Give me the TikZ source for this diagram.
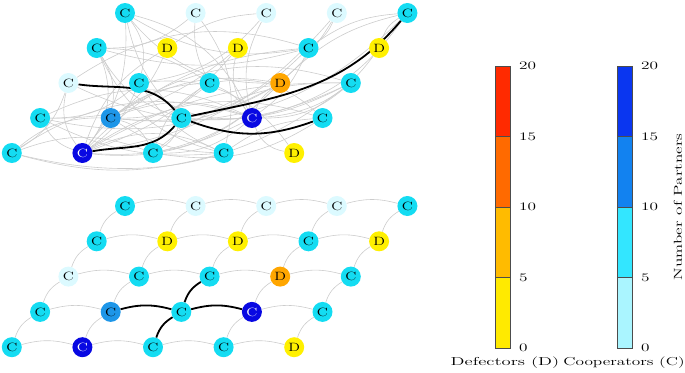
\documentclass[tikz,border=0pt]{standalone}
\usepackage{tikz}
\usepackage{xcolor}
\usetikzlibrary{calc}
\definecolor{CoopA}{HTML}{DCFAFF}
\definecolor{CoopB}{HTML}{14DCF2}
\definecolor{CoopC}{HTML}{1E96E8}
\definecolor{CoopD}{HTML}{0808E2}
\definecolor{DefA}{HTML}{FFF000}
\definecolor{DefB}{HTML}{FFA600}
\definecolor{BarCA}{HTML}{AAF5FF}
\definecolor{BarCB}{HTML}{33E6FF}
\definecolor{BarCC}{HTML}{1282F0}
\definecolor{BarCD}{HTML}{0A36F0}
\definecolor{BarDA}{HTML}{FFEA00}
\definecolor{BarDB}{HTML}{FFBB00}
\definecolor{BarDC}{HTML}{FF6A00}
\definecolor{BarDD}{HTML}{FF2A00}
\newcommand{\wtext}[1]{\scalebox{1.5}[1]{#1}}
\newcommand{\ltext}[1]{\scalebox{1.62}[1]{#1}}
\newcommand{\ntext}[1]{\scalebox{1.3}[1]{#1}}
\pgfdeclarelayer{background}
\pgfsetlayers{background,main}

\begin{document}
\begin{tikzpicture}[x=1pt, y=-1pt,
    agent/.style={circle, inner sep=0pt, minimum size=20pt, font=\fontsize{12}{14}\selectfont},
    netedge/.style={gray!40, line width=0.6pt},
    hubedge/.style={black, line width=1.8pt},
    barseg/.style={draw=black!70, line width=0.5pt},
    tick/.style={anchor=west, inner sep=0pt, font=\fontsize{11.5}{13}\selectfont},
    barlabel/.style={inner sep=0pt, font=\fontsize{11.5}{13}\selectfont}]
    \useasboundingbox (0,0) rectangle (685,372);

    % Agents: top = partner network, bottom = lattice
    \foreach \f/\l/\tc [count=\i from 0] in {
        CoopB/C/black, CoopA/C/black, CoopA/C/black, CoopA/C/black, CoopB/C/black,
        CoopB/C/black, DefA/D/black, DefA/D/black, CoopB/C/black, DefA/D/black,
        CoopA/C/black, CoopB/C/black, CoopB/C/black, DefB/D/black, CoopB/C/black,
        CoopB/C/black, CoopC/C/black, CoopB/C/black, CoopD/C/white, CoopB/C/black,
        CoopB/C/black, CoopD/C/white, CoopB/C/black, CoopB/C/black, DefA/D/black} {
        \pgfmathtruncatemacro\r{div(\i,5)+1}
        \pgfmathtruncatemacro\c{mod(\i,5)+1}
        \pgfmathsetmacro\xx{125-28.3*(\r-1)+70.6*(\c-1)}
        \pgfmathsetmacro\yt{13+35*(\r-1)}
        \pgfmathsetmacro\yb{206+35.3*(\r-1)}
        \node[agent, fill=\f, text=\tc] (t\r\c) at (\xx,\yt) {\ntext{\l}};
        \node[agent, fill=\f, text=\tc] (b\r\c) at (\xx,\yb) {\ntext{\l}};
    }

    \begin{pgfonlayer}{background}
    % Partner network
    \foreach \a/\b/\s in {11/32/25, 11/43/-15, 11/24/-20, 11/34/-25, 11/44/25, 11/52/20,
        12/33/-15, 12/21/20, 12/54/25, 13/32/20, 13/44/-20, 13/22/-15,
        14/24/15, 14/43/25, 14/52/20, 15/24/-15, 15/25/-20, 15/44/20, 15/42/25, 15/34/-15,
        21/24/-15, 21/42/20, 21/43/-20, 21/33/15, 21/52/30, 21/54/-25,
        22/42/15, 22/52/-20, 23/44/-25, 23/41/20, 23/52/15,
        24/42/25, 24/52/-20, 24/44/15, 24/31/-25, 25/44/25,
        31/52/-25, 31/51/20, 31/35/-25, 32/52/15, 32/44/-20, 32/41/20, 32/54/-15, 32/55/30,
        33/52/-25, 33/42/20, 33/44/15, 33/53/-20, 33/45/25,
        34/42/-20, 34/52/25, 34/53/15, 34/44/-15, 34/41/20,
        35/42/-25, 35/44/20, 35/52/-15, 35/51/25, 35/53/-20, 35/43/15,
        41/52/-20, 41/44/25, 41/54/-15, 42/44/20, 42/51/-20, 42/53/25, 42/54/-15,
        44/51/-25, 44/53/20, 44/55/-30, 44/52/15, 45/52/-25, 45/53/20, 45/54/-15,
        51/53/20, 51/54/-15, 52/54/25, 53/43/-20}
        \draw[netedge] (t\a) to[bend left=\s] (t\b);
    \draw[hubedge] (t31) to[out=-8, in=130] (t43);
    \draw[hubedge] (t52) to[out=10, in=230] (t43);
    \draw[hubedge] (t43) to[out=12, in=230] (t15);
    \draw[hubedge] (t43) to[bend right=20] (t45);

    % Lattice
    \foreach \r in {1,...,5}
        \foreach \c/\n in {1/2,2/3,3/4,4/5}
            \draw[netedge] (b\r\c) to[bend left=15] (b\r\n);
    \foreach \r/\p in {2/1,3/2,4/3,5/4}
        \foreach \c in {1,...,5}
            \draw[netedge] (b\r\c) to[bend left=20] (b\p\c);
    \draw[hubedge] (b42) to[bend left=15] (b43);
    \draw[hubedge] (b43) to[bend left=15] (b44);
    \draw[hubedge] (b53) to[bend left=20] (b43);
    \draw[hubedge] (b43) to[bend left=20] (b33);
    \end{pgfonlayer}

    % Colour bars
    \foreach \col [count=\k from 0] in {BarDA,BarDB,BarDC,BarDD}
        \draw[barseg, fill=\col] (495,{348-70.5*\k}) rectangle (510,{348-70.5*(\k+1)});
    \foreach \col [count=\k from 0] in {BarCA,BarCB,BarCC,BarCD}
        \draw[barseg, fill=\col] (617,{348-70.5*\k}) rectangle (632,{348-70.5*(\k+1)});
    \foreach \v [count=\k from 0] in {0,5,10,15,20} {
        \node[tick] (dt\k) at (519,{348-70.5*\k}) {\wtext{\v}};
        \node[tick] (ct\k) at (641,{348-70.5*\k}) {\wtext{\v}};
    }
    \node[barlabel] (dlab) at (505,363) {\ltext{Defectors (D)}};
    \node[barlabel] (clab) at (624,363) {\wtext{Cooperators (C)}};
    \node[barlabel, rotate=90] (plab) at (678,207) {\wtext{Number of Partners}};

\end{tikzpicture}
\end{document}
